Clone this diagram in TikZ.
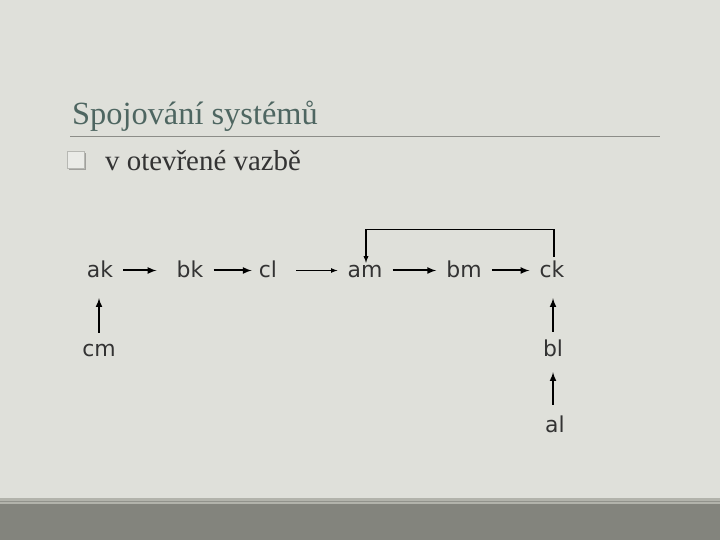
\documentclass[tikz,border=0pt]{standalone}
\usepackage{fontspec}
\setmainfont{Liberation Serif}
\newfontfamily\diagfont{DejaVu Sans}
\usepackage{tikz}
\usetikzlibrary{arrows}
\definecolor{bgcol}{HTML}{DFE0DA}
\definecolor{barcol}{HTML}{83847D}
\definecolor{bandcol}{HTML}{B2B3AB}
\definecolor{titlecol}{HTML}{4E6661}
\definecolor{txtcol}{HTML}{333333}
\definecolor{rulecol}{HTML}{8C8D88}

\begin{document}
\begin{tikzpicture}[
x=1bp,y=1bp,
lbl/.style={
  font=\diagfont\fontsize{22}{26}\selectfont,
  text=txtcol,
  inner sep=0pt,
  text height=15bp,
  text depth=0pt,
  anchor=base
},
arr/.style={
  -latex,
  line width=2bp,
  draw=black,
  shorten <=10bp,
  shorten >=10bp
}
]
\fill[bgcol] (0,0) rectangle (720,540);
\useasboundingbox (0,0) rectangle (720,540);
% footer bar
\fill[barcol] (0,0) rectangle (720,36);
\fill[bandcol] (0,36) rectangle (720,42);
\draw[barcol!70!bandcol,line width=0.6bp] (0,39) -- (720,39);

% heading
\node[anchor=base west,inner sep=0pt,text=titlecol,font=\fontsize{32.5}{36}\selectfont]
  (title) at (72,415) {Spojování systémů};
\draw[rulecol,line width=0.8bp] (70,404) -- (660,404);
\fill[black!28!bgcol] (69,370) rectangle (86,387);
\filldraw[draw=black!18!bgcol,fill=white!35!bgcol,line width=0.8bp] (67,372) rectangle (84,389);
\node[anchor=base west,inner sep=0pt,text=txtcol,font=\fontsize{29}{34}\selectfont]
  (sub) at (105,369) {v otevřené vazbě};

% top row
\node[lbl] at (100,262) (ak) {ak};
\node[lbl] at (190,262) (bk) {bk};
\node[lbl] at (268,262) (cl) {cl};
\node[lbl] at (365,262) (am) {am};
\node[lbl] at (464,262) (bm) {bm};
\node[lbl] at (552,262) (ck) {ck};

\node[lbl] at (99,183) (cm) {cm};
\node[lbl] at (553,183) (bl) {bl};
\node[lbl] at (555,107) (al) {al};

\draw[arr,shorten >=20bp] (ak) -- (bk);
\draw[arr,shorten >=7bp] (bk) -- (cl);
\draw[arr,line width=1.2bp,shorten <=19bp] (cl) -- (am);
\draw[arr] (am) -- (bm);
\draw[arr] (bm) -- (ck);

\draw[arr,shorten <=9bp,shorten >=20bp] (cm.north) -- (cm.north|-ak.south);
\draw[arr,shorten <=10bp,shorten >=20bp] (bl.north) -- (bl.north|-ck.south);
\draw[arr,shorten <=13bp,shorten >=15bp] (al.north-|bl.north) -- (bl.south);

% feedback loop
\draw[-latex,line width=1.3bp] ([shift={(2bp,6bp)}]ck.north) -- ++(0,27) -| ([xshift=1bp]am.north);
\end{tikzpicture}
\end{document}
